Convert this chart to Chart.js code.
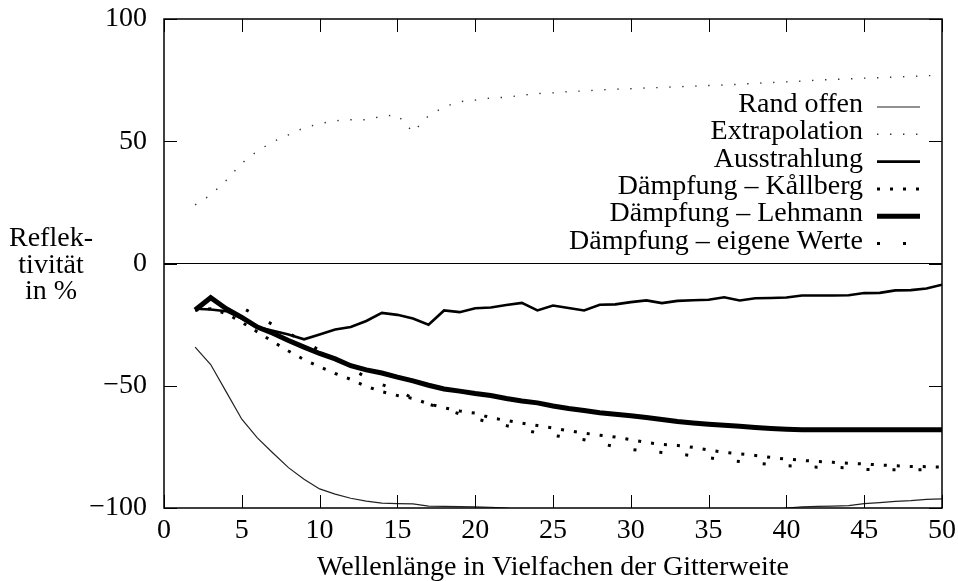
<!DOCTYPE html>
<html>
<head>
<meta charset="utf-8">
<script src="https://cdn.jsdelivr.net/npm/chart.js@4.4.1/dist/chart.umd.min.js"></script>
<style>
  html, body { margin: 0; padding: 0; background: #fff; }
  #wrap { width: 958px; height: 581px; }
</style>
</head>
<body>
<div id="wrap"><canvas id="reflChart" width="958" height="581"></canvas></div>
<script>
// Wellenlänge (Vielfache der Gitterweite)
const wellenlaenge = [2, 3, 4, 5, 6, 7, 8, 9, 10, 11, 12, 13, 14, 15, 16, 17, 18, 19, 20, 21, 22, 23, 24, 25, 26,
    27, 28, 29, 30, 31, 32, 33, 34, 35, 36, 37, 38, 39, 40, 41, 42, 43, 44, 45, 46, 47, 48, 49, 50];

// Reflektivität in %
const randOffen = [-34.2, -41.3, -52.5, -63.7, -71.3, -77.5, -83.5, -88.2, -92.2, -94.3, -96, -97.2, -98, -98.2, -98.3,
    -99.2, -99.3, -99.4, -99.5, -99.7, -100, -101, -101, -101, -101, -101, -101, -101, -101, -101, -101, -101, -101,
    -101, -101, -101, -101, -101, -100, -99.5, -99.3, -99.2, -99, -98.2, -97.8, -97.3, -97, -96.5, -96.3];
const extrapolation = [24, 28, 34, 41, 46, 49.8, 52.6, 55.5, 57.2, 58.4, 58.8, 58.8, 60.2, 60.8, 53.7, 60.4, 64, 66.2,
    66.8, 67.7, 68, 68.8, 69.5, 69.8, 70.3, 70.6, 71, 71.3, 71.5, 71.8, 72, 72.3, 72.5, 72.8, 73, 73.3, 73.7, 74, 74.3,
    74.6, 75, 75.3, 75.5, 75.8, 76, 76.3, 76.5, 76.8, 77];
const ausstrahlung = [-18.5, -18.8, -19.5, -22.5, -26, -27.5, -29, -31, -29, -27, -26, -23.5, -20.2, -21, -22.5, -25,
    -19.2, -19.9, -18.3, -18, -17, -16.1, -19.2, -17.2, -18.2, -19.2, -16.9, -16.7, -15.8, -15.1, -16.2, -15.3, -15,
    -14.8, -13.8, -15.1, -14.2, -14.1, -13.9, -13.1, -13.1, -13.1, -13, -12.1, -12, -11, -10.9, -10.2, -8.7];
const kallberg = [-19, -18.5, -20.5, -24, -28, -32, -35.8, -39.3, -42.2, -45, -47.4, -50.3, -52.4, -54, -55.2, -57.4,
    -59, -60.3, -61.2, -63.1, -64.2, -65.3, -66.3, -67.3, -68.4, -69.4, -70.2, -71, -72, -73.2, -74, -74.4, -75.2,
    -76.3, -77.2, -77.8, -78.5, -79.3, -80, -80.5, -81, -81.3, -81.7, -82, -82.4, -82.7, -83, -83.1, -83.3];
const lehmann = [-19, -14, -18.5, -22, -26, -28.5, -31.5, -34.2, -36.8, -39, -41.8, -43.5, -44.8, -46.5, -48, -49.8,
    -51.3, -52.2, -53.2, -54, -55.2, -56.2, -57, -58.3, -59.3, -60.1, -61, -61.7, -62.3, -63, -63.8, -64.6, -65.2,
    -65.7, -66.2, -66.6, -67.1, -67.5, -67.8, -68, -68, -68, -68, -68, -68, -68, -68, -68, -68];
const eigeneWerte = [-19, -17.5, -17.5, -18, -21.5, -25, -28.5, -32, -35.5, -39, -43, -46.5, -49.5, -52, -55, -57.5,
    -59.5, -61.5, -63.5, -65, -66.3, -67.8, -69.3, -70.3, -71.2, -72.1, -73.5, -75, -76, -76.8, -77.3, -77.9, -78.6,
    -79.4, -80.3, -81, -81.6, -82.2, -82.7, -83.1, -83.3, -83.3, -83.6, -84.2, -84.3, -84.4, -84.4, -84.4, -84.4];

const xTickValues = [0, 5, 10, 15, 20, 25, 30, 35, 40, 45, 50];
const yTickValues = [-100, -50, 0, 50, 100];
const yLabelLines = ['Reflek-', 'tivität', 'in %'];

const FONT = 'Liberation Serif';
Chart.defaults.font.family = FONT;
Chart.defaults.font.size = 28;
Chart.defaults.color = '#000';

function pts(values) {
    return values.map((v, i) => ({x: wellenlaenge[i], y: v}));
}

// Rahmen, Ticks nach innen, Legende rechts oben, Achsenbeschriftung links
const framePlugin = {
    id: 'framePlugin',
    afterDatasetsDraw(chart) {
        const {ctx, chartArea: a, scales: {x, y}} = chart;
        ctx.save();
        ctx.strokeStyle = '#000';
        ctx.lineWidth = 1;
        ctx.beginPath();
        xTickValues.forEach(v => {
            const px = Math.round(x.getPixelForValue(v)) + 0.5;
            ctx.moveTo(px, a.bottom); ctx.lineTo(px, a.bottom - 13);
            ctx.moveTo(px, a.top); ctx.lineTo(px, a.top + 13);
        });
        yTickValues.forEach(v => {
            const py = Math.round(y.getPixelForValue(v)) + 0.5;
            ctx.moveTo(a.left, py); ctx.lineTo(a.left + 13, py);
            ctx.moveTo(a.right, py); ctx.lineTo(a.right - 13, py);
        });
        ctx.stroke();
        ctx.lineWidth = 1.5;
        ctx.strokeRect(a.left, a.top, a.right - a.left, a.bottom - a.top);

        // Legende
        ctx.font = '28px "' + FONT + '"';
        ctx.fillStyle = '#000';
        ctx.textAlign = 'right';
        ctx.textBaseline = 'alphabetic';
        chart.data.datasets.forEach((ds, i) => {
            const base = 112 + i * 27.3;
            ctx.fillText(ds.label, 863, base);
            ctx.lineWidth = ds.borderWidth;
            ctx.setLineDash(ds.borderDash || []);
            ctx.strokeStyle = ds.borderColor;
            ctx.beginPath();
            ctx.moveTo(877, base - 5);
            ctx.lineTo(920, base - 5);
            ctx.stroke();
        });
        ctx.setLineDash([]);

        // y-Achsenbeschriftung
        ctx.textAlign = 'center';
        ctx.fillStyle = '#000';
        yLabelLines.forEach((t, i) => ctx.fillText(t, 51, 246 + i * 26.5));
        ctx.restore();
    }
};

const ctx = document.getElementById('reflChart').getContext('2d');
new Chart(ctx, {
    type: 'line',
    data: {
        datasets: [
            {label: 'Rand offen', data: pts(randOffen), borderColor: '#222', borderWidth: 1.2},
            {label: 'Extrapolation', data: pts(extrapolation), borderColor: '#333', borderWidth: 1.4, borderDash: [1.4, 11.6]},
            {label: 'Ausstrahlung', data: pts(ausstrahlung), borderColor: '#000', borderWidth: 2.6},
            {label: 'Dämpfung – Kållberg', data: pts(kallberg), borderColor: '#000', borderWidth: 3, borderDash: [3, 10]},
            {label: 'Dämpfung – Lehmann', data: pts(lehmann), borderColor: '#000', borderWidth: 5},
            {label: 'Dämpfung – eigene Werte', data: pts(eigeneWerte), borderColor: '#000', borderWidth: 3, borderDash: [3, 23]}
        ]
    },
    options: {
        responsive: false,
        animation: false,
        devicePixelRatio: 1,
        layout: {padding: {top: 19, right: 16, left: 0, bottom: 0}},
        elements: {
            point: {radius: 0},
            line: {tension: 0, fill: false, borderCapStyle: 'butt', borderJoinStyle: 'miter'}
        },
        plugins: {
            legend: {display: false},
            tooltip: {enabled: false}
        },
        scales: {
            x: {
                type: 'linear',
                min: 0,
                max: 50,
                afterBuildTicks: s => { s.ticks = xTickValues.map(v => ({value: v})); },
                afterFit: s => { s.height = 73; s.paddingLeft = 0; s.paddingRight = 0; },
                grid: {display: false, drawTicks: false},
                border: {display: false},
                ticks: {padding: 6, maxRotation: 0, autoSkip: false},
                title: {display: true, text: 'Wellenlänge in Vielfachen der Gitterweite', padding: {top: 0, bottom: -3}}
            },
            y: {
                type: 'linear',
                min: -100,
                max: 100,
                afterBuildTicks: s => { s.ticks = yTickValues.map(v => ({value: v})); },
                afterFit: s => { s.width = 164; s.paddingTop = 0; s.paddingBottom = 0; },
                grid: {
                    drawTicks: false,
                    lineWidth: 1,
                    color: c => (c.tick && c.tick.value === 0 ? '#000' : 'rgba(0,0,0,0)')
                },
                border: {display: false},
                ticks: {
                    padding: 17,
                    autoSkip: false,
                    callback: v => (v < 0 ? '\u2212' + Math.abs(v) : String(v))
                }
            }
        }
    },
    plugins: [framePlugin]
});
</script>
</body>
</html>
